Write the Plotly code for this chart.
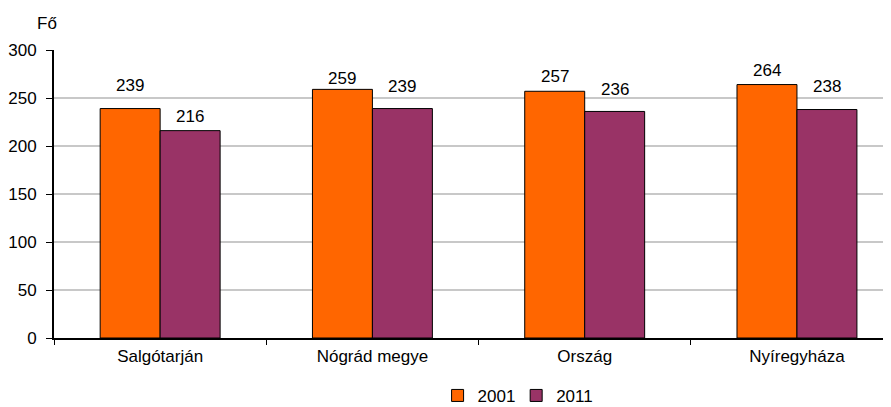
import plotly.graph_objects as go

categories = ["Salgótarján", "Nógrád megye", "Ország", "Nyíregyháza"]
values_2001 = [239, 259, 257, 264]
values_2011 = [216, 239, 236, 238]
series_names = ["2001", "2011"]
y_ticks = [0, 50, 100, 150, 200, 250, 300]

# label vertical gaps (px) above each bar, mimicking reference placement
label_gap_2001 = [16, 3, 7, 7]
label_gap_2011 = [7, 15, 14, 16]

FONT = "Liberation Sans, Arial, sans-serif"
FS = 17
colors = ["#FF6600", "#993366"]
legend_ids = ["legend", "legend2"]
legend_x = [0.4865, 0.5755]

fig = go.Figure()
for name, vals, col, lid in zip(series_names, [values_2001, values_2011], colors, legend_ids):
    fig.add_trace(go.Bar(
        x=categories, y=vals, name=name, legend=lid,
        marker=dict(color=col, line=dict(color="black", width=1)),
    ))

annotations = []
for vals, gaps, shift in [(values_2001, label_gap_2001, -30), (values_2011, label_gap_2011, 30)]:
    for c, v, g in zip(categories, vals, gaps):
        annotations.append(dict(
            x=c, y=v, xref="x", yref="y", text=str(v), showarrow=False,
            xshift=shift, yshift=g - 4, yanchor="bottom",
            font=dict(family=FONT, size=FS, color="black"),
        ))
annotations.append(dict(
    x=0.006, y=1.092, xref="paper", yref="paper", text="Fő", showarrow=False,
    xanchor="right", yanchor="middle",
    font=dict(family=FONT, size=FS, color="black"),
))

legend_style = dict(orientation="h", xref="container", yref="paper",
                    xanchor="left", y=-0.201, yanchor="middle",
                    font=dict(family=FONT, size=FS), itemwidth=30,
                    bgcolor="rgba(0,0,0,0)")

fig.update_layout(
    template="none",
    width=883, height=399,
    margin=dict(l=46, r=0, t=42, b=69, autoexpand=False),
    paper_bgcolor="white", plot_bgcolor="white",
    barmode="group", bargap=0.435, bargroupgap=0,
    font=dict(family=FONT, size=FS, color="black"),
    showlegend=True,
    legend=dict(x=legend_x[0], **legend_style),
    legend2=dict(x=legend_x[1], **legend_style),
    annotations=annotations,
)

fig.update_xaxes(
    type="category", range=[-0.5, 3.443], automargin=False,
    tickson="boundaries", ticks="outside", ticklen=5, tickcolor="black", tickwidth=1,
    ticklabelstandoff=2,
    showline=True, linecolor="black", linewidth=2,
    showgrid=False, tickfont=dict(family=FONT, size=FS),
)
fig.update_yaxes(
    range=[0, 300], tickvals=y_ticks, ticks="outside", ticklen=6, tickcolor="black", tickwidth=1,
    automargin=False, ticklabelstandoff=6,
    showline=True, linecolor="black", linewidth=2,
    showgrid=True, gridcolor="#C8C8C8", gridwidth=1.5, zeroline=False,
    tickfont=dict(family=FONT, size=FS),
)

fig.write_html("out.html")
